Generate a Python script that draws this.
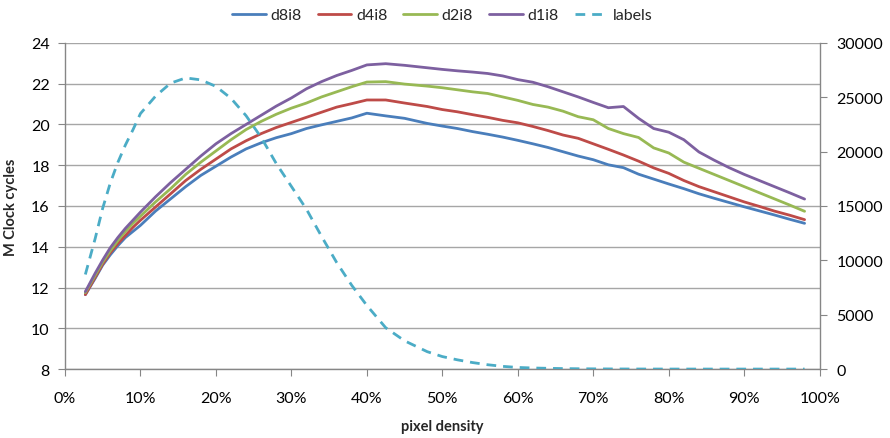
import matplotlib
matplotlib.use('Agg')
import matplotlib.pyplot as plt, seaborn as sns
from matplotlib.ticker import FuncFormatter

# pixel density (fraction)
density = [0.027, 0.04, 0.05, 0.06, 0.07, 0.08, 0.09, 0.10, 0.12, 0.14, 0.16, 0.18, 0.20,
           0.22, 0.24, 0.26, 0.28, 0.30, 0.32, 0.34, 0.36, 0.38, 0.40, 0.425, 0.45, 0.48,
           0.50, 0.52, 0.54, 0.56, 0.58, 0.60, 0.62, 0.64, 0.66, 0.68, 0.70, 0.72, 0.74,
           0.76, 0.78, 0.80, 0.82, 0.84, 0.86, 0.88, 0.90, 0.92, 0.94, 0.96, 0.98]

d8i8 = [11.65, 12.45, 13.1, 13.6, 14.05, 14.45, 14.75, 15.05, 15.75, 16.35, 16.95, 17.5, 17.95,
        18.4, 18.8, 19.1, 19.35, 19.55, 19.8, 19.98, 20.15, 20.32, 20.55, 20.42, 20.3, 20.05,
        19.92, 19.8, 19.65, 19.52, 19.38, 19.22, 19.05, 18.87, 18.66, 18.45, 18.27, 18.02, 17.88,
        17.56, 17.32, 17.08, 16.85, 16.6, 16.38, 16.17, 15.96, 15.76, 15.56, 15.35, 15.15]

d4i8 = [11.65, 12.5, 13.15, 13.7, 14.15, 14.55, 14.95, 15.3, 15.95, 16.6, 17.25, 17.8, 18.3,
        18.8, 19.2, 19.55, 19.85, 20.1, 20.35, 20.6, 20.85, 21.02, 21.2, 21.2, 21.05, 20.88,
        20.73, 20.62, 20.48, 20.35, 20.2, 20.08, 19.9, 19.7, 19.48, 19.32, 19.05, 18.78, 18.5,
        18.2, 17.87, 17.6, 17.25, 16.95, 16.7, 16.45, 16.2, 15.98, 15.75, 15.55, 15.33]

d2i8 = [11.75, 12.6, 13.25, 13.8, 14.3, 14.75, 15.15, 15.5, 16.2, 16.85, 17.55, 18.15, 18.7,
        19.25, 19.75, 20.15, 20.5, 20.8, 21.05, 21.35, 21.6, 21.85, 22.08, 22.1, 21.98, 21.88,
        21.8, 21.7, 21.6, 21.52, 21.35, 21.18, 20.98, 20.85, 20.65, 20.38, 20.23, 19.8, 19.55,
        19.36, 18.85, 18.6, 18.15, 17.85, 17.55, 17.25, 16.95, 16.65, 16.35, 16.05, 15.74]

d1i8 = [11.8, 12.7, 13.35, 13.95, 14.45, 14.9, 15.3, 15.7, 16.45, 17.15, 17.8, 18.45, 19.05,
        19.55, 20.0, 20.45, 20.9, 21.3, 21.75, 22.1, 22.4, 22.65, 22.92, 22.98, 22.9, 22.78,
        22.7, 22.63, 22.57, 22.5, 22.38, 22.2, 22.07, 21.85, 21.6, 21.35, 21.08, 20.82, 20.88,
        20.3, 19.8, 19.62, 19.25, 18.65, 18.25, 17.88, 17.55, 17.25, 16.95, 16.65, 16.34]

labels = [8700, 12000, 14800, 17100, 19000, 20600, 22000, 23500, 25100, 26300, 26780, 26600, 26000,
          24900, 23300, 21300, 18900, 16800, 14700, 12200, 9800, 7700, 5850, 3800, 2600, 1600,
          1150, 850, 600, 400, 250, 150, 100, 70, 45, 30, 20, 12, 8, 5, 3, 2, 1, 1, 0,
          0, 0, 0, 0, 0, 0]

series = {'d8i8': (d8i8, '#4a7ebb'), 'd4i8': (d4i8, '#be4b48'),
          'd2i8': (d2i8, '#98b954'), 'd1i8': (d1i8, '#7d60a0')}

sns.set_style('white')
plt.rcParams['font.family'] = ['Lato', 'DejaVu Sans']

fig = plt.figure(figsize=(8.9, 4.39), dpi=100)
ax = fig.add_axes([0.073, 0.157, 0.848, 0.743])
ax2 = ax.twinx()

for name, (vals, col) in series.items():
    sns.lineplot(x=density, y=vals, ax=ax, color=col, linewidth=2, label=name)
sns.lineplot(x=density, y=labels, ax=ax2, color='#4bacc6', linewidth=2,
             linestyle=(0, (3.5, 2.5)), label='labels')

grid_col = '#a6a6a6'
ax.set_xlim(0, 1)
ax.set_ylim(8, 24)
ax.set_yticks(range(8, 25, 2))
ax.set_xticks([i / 10 for i in range(11)])
ax.xaxis.set_major_formatter(FuncFormatter(lambda v, p: f'{int(round(v * 100))}%'))
ax.yaxis.grid(True, color=grid_col, linewidth=1)
ax.set_axisbelow(True)
ax2.set_ylim(0, 30000)
ax2.set_yticks(range(0, 30001, 5000))

for a in (ax, ax2):
    for s in a.spines.values():
        s.set_visible(False)
ax.spines['left'].set_visible(True)
ax.spines['bottom'].set_visible(True)
ax2.spines['right'].set_visible(True)
for s in (ax.spines['left'], ax.spines['bottom'], ax2.spines['right']):
    s.set_color('#868686')
    s.set_linewidth(1)

ax.tick_params(axis='y', direction='out', length=5, color='#868686', labelsize=11.5,
               labelcolor='black', left=True, pad=6)
ax.tick_params(axis='x', direction='out', length=5, color='#868686', labelsize=11.5,
               labelcolor='black', bottom=True, pad=11)
ax2.tick_params(axis='y', direction='out', length=5, color='#868686', labelsize=11.5,
                labelcolor='black', right=True, pad=7)

ax.set_xlabel('pixel density', fontsize=10.5, fontweight='bold', labelpad=10)
ax.set_ylabel('M Clock cycles', fontsize=10.5, fontweight='bold', labelpad=9)

h1, l1 = ax.get_legend_handles_labels()
h2, l2 = ax2.get_legend_handles_labels()
ax.get_legend().remove()
ax2.get_legend().remove()
fig.legend(h1 + h2, l1 + l2, loc='upper center', bbox_to_anchor=(0.497, 1.012), ncol=5,
           frameon=False, fontsize=11.5, handlelength=2.1, columnspacing=1.0, handletextpad=0.3)

fig.savefig('out.png', dpi=100)
